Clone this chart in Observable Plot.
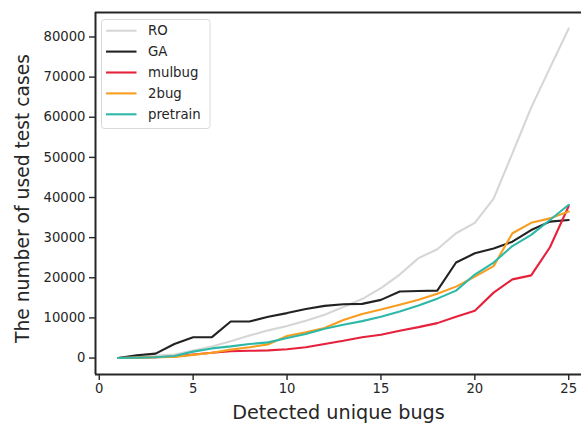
<!DOCTYPE html>
<html>
<head>
<meta charset="utf-8">
<script src="https://cdn.jsdelivr.net/npm/d3@7"></script>
<script src="https://cdn.jsdelivr.net/npm/@observablehq/plot@0.6"></script>
<style>
  html, body { margin: 0; padding: 0; background: #fff; }
  #chart { width: 581px; height: 425px; }
</style>
</head>
<body>
<div id="chart"></div>
<script>
const bugs = [1,2,3,4,5,6,7,8,9,10,11,12,13,14,15,16,17,18,19,20,21,22,23,24,25];
const ro = [0,300,600,900,1900,2900,4200,5600,6900,8000,9300,10800,12700,14700,17400,20800,24900,27100,31100,33700,39700,51000,62400,72300,82100];
const ga = [0,700,1100,3500,5200,5200,9100,9100,10300,11200,12200,13000,13400,13500,14500,16600,16700,16800,23800,26100,27300,29000,31900,34000,34400];
const mulbug = [0,100,200,400,900,1300,1700,1800,1900,2200,2700,3500,4300,5200,5800,6800,7700,8700,10300,11800,16300,19600,20600,27600,37900];
const twobug = [0,100,200,300,800,1300,2100,2700,3400,5500,6400,7500,9500,11000,12100,13300,14500,16000,17800,20300,22900,31100,33700,34800,36500];
const pretrain = [0,100,200,500,1600,2400,2900,3500,3900,5000,6000,7300,8300,9200,10300,11600,13100,14800,16800,20800,23800,27900,30700,34400,38200];

const seriesNames = ["RO","GA","mulbug","2bug","pretrain"];
const seriesColors = ["#d6d6d6","#222222","#e6213b","#f89d1f","#2eb8a8"];
const seriesValues = [ro, ga, mulbug, twobug, pretrain];
const xTicks = [0,5,10,15,20,25];
const yTicks = [0,10000,20000,30000,40000,50000,60000,70000,80000];

const table = [];
seriesNames.forEach((name, i) => {
  bugs.forEach((b, j) => table.push({series: name, bugs: b, value: seriesValues[i][j]}));
});

const font = "DejaVu Sans";
const ink = "#262626";

const chart = Plot.plot({
  width: 581,
  height: 425,
  marginLeft: 95,
  marginRight: 0,
  marginTop: 12,
  marginBottom: 51,
  style: {fontFamily: font, background: "#fff", overflow: "visible"},
  x: {domain: [-0.2, 25.68]},
  y: {domain: [-4100, 86100]},
  color: {domain: seriesNames, range: seriesColors},
  marks: [
    Plot.line(table, {x: "bugs", y: "value", z: "series", stroke: "series", strokeWidth: 2.1, strokeLinejoin: "miter"}),
    Plot.ruleX([-0.2], {stroke: ink, strokeWidth: 2}),
    Plot.ruleY([86100], {stroke: ink, strokeWidth: 2}),
    Plot.ruleY([-4100], {stroke: ink, strokeWidth: 2}),
    Plot.axisX({ticks: xTicks, tickSize: 6, tickPadding: 3, stroke: ink, strokeWidth: 1.4, fill: ink, fontSize: 13.2,
      label: "Detected unique bugs", labelAnchor: "center", labelArrow: "none", labelOffset: 44}),
    Plot.axisY({ticks: yTicks, tickFormat: "d", tickSize: 6, tickPadding: 4, stroke: ink, strokeWidth: 1.4, fill: ink, fontSize: 13.2,
      label: "The number of used test cases", labelAnchor: "center", labelArrow: "none", labelOffset: 80})
  ]
});

document.getElementById("chart").appendChild(chart);

const svg = d3.select(chart);
svg.selectAll("[aria-label='x-axis label'] text").attr("font-size", 19.2).attr("fill", ink);
svg.selectAll("[aria-label='y-axis label'] text").attr("font-size", 18.7).attr("fill", ink);
const yl = svg.select("[aria-label='y-axis label']");
if (!yl.empty()) yl.attr("transform", ((yl.attr("transform") || "") + " translate(0,5)").trim());

// Legend
const lg = svg.append("g").attr("font-family", font).attr("text-anchor", "start");
lg.append("rect").attr("x", 101.5).attr("y", 19.5).attr("width", 108.5).attr("height", 109)
  .attr("rx", 3).attr("fill", "rgba(255,255,255,0.85)").attr("stroke", "#d9d9d9").attr("stroke-width", 1);
seriesNames.forEach((name, i) => {
  const yy = 30.7 + i * 20.9;
  lg.append("line").attr("x1", 106).attr("x2", 136.5).attr("y1", yy).attr("y2", yy)
    .attr("stroke", seriesColors[i]).attr("stroke-width", 2.1);
  lg.append("text").attr("x", 148).attr("y", yy).attr("dy", "0.36em").attr("text-anchor", "start")
    .attr("font-size", 13.3).attr("fill", ink).text(name);
});
</script>
</body>
</html>
